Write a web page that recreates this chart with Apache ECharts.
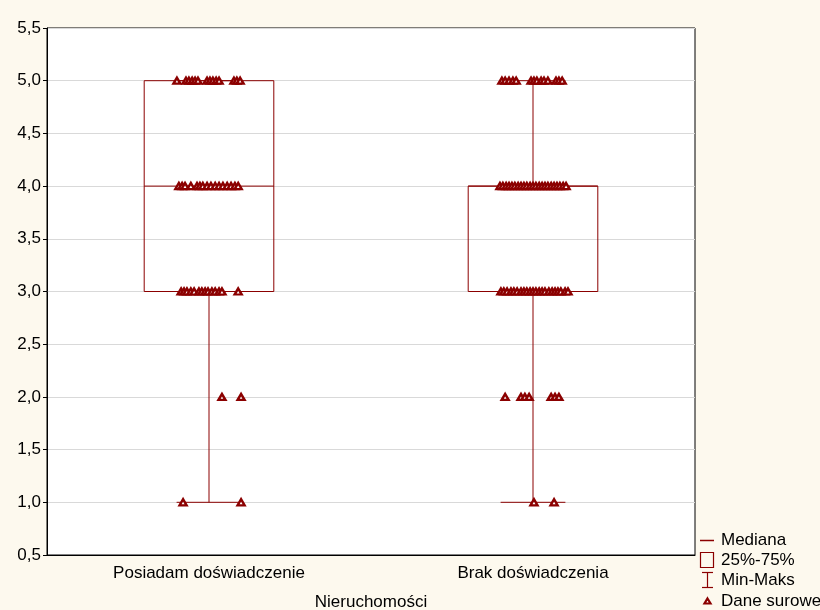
<!DOCTYPE html>
<html><head><meta charset="utf-8">
<script src="https://cdn.jsdelivr.net/npm/echarts@6/dist/echarts.min.js"></script>
<style>html,body{margin:0;padding:0;background:#FDF9EE;}#c{width:820px;height:610px;}</style>
</head><body><div id="c"></div><script>
const categories = ['Posiadam doświadczenie', 'Brak doświadczenia'];
const mins = [1, 1];
const q1s = [3, 3];
const medians = [4, 4];
const q3s = [5, 4];
const maxs = [5, 5];
const xAxisName = 'Nieruchomości';
const legendLabels = ['Mediana', '25%-75%', 'Min-Maks', 'Dane surowe'];
// raw points: [jitter offset in category widths, value]
const rawPosiadam = [
  [-0.099,5],[-0.071,5],[-0.062,5],[-0.052,5],[-0.043,5],[-0.034,5],[-0.006,5],[0.003,5],[0.012,5],[0.022,5],[0.031,5],[0.077,5],[0.086,5],[0.096,5],
  [-0.093,4],[-0.083,4],[-0.074,4],[-0.056,4],[-0.037,4],[-0.028,4],[-0.019,4],[-0.006,4],[0.006,4],[0.019,4],[0.031,4],[0.043,4],[0.056,4],[0.068,4],[0.080,4],[0.090,4],
  [-0.086,3],[-0.077,3],[-0.068,3],[-0.056,3],[-0.046,3],[-0.031,3],[-0.022,3],[-0.012,3],[-0.003,3],[0.009,3],[0.019,3],[0.031,3],[0.040,3],[0.090,3],
  [0.040,2],[0.099,2],
  [-0.080,1],[0.099,1]
];
const rawBrak = [
  [-0.096,5],[-0.086,5],[-0.074,5],[-0.062,5],[-0.052,5],[-0.006,5],[0.003,5],[0.012,5],[0.025,5],[0.034,5],[0.046,5],[0.071,5],[0.080,5],[0.090,5],
  [-0.102,4],[-0.093,4],[-0.083,4],[-0.074,4],[-0.065,4],[-0.056,4],[-0.046,4],[-0.037,4],[-0.028,4],[-0.019,4],[-0.009,4],[0.000,4],[0.009,4],[0.019,4],[0.028,4],[0.037,4],[0.046,4],[0.056,4],[0.065,4],[0.074,4],[0.083,4],[0.093,4],[0.102,4],
  [-0.099,3],[-0.090,3],[-0.080,3],[-0.068,3],[-0.059,3],[-0.049,3],[-0.037,3],[-0.028,3],[-0.019,3],[-0.009,3],[0.000,3],[0.009,3],[0.019,3],[0.028,3],[0.037,3],[0.049,3],[0.059,3],[0.068,3],[0.077,3],[0.086,3],[0.099,3],[0.108,3],
  [-0.086,2],[-0.037,2],[-0.025,2],[-0.012,2],[0.056,2],[0.068,2],[0.080,2],
  [0.003,1],[0.065,1]
];

const RED = '#8b0000';
const FONT = 'Liberation Sans, Arial, sans-serif';
const FS = 17;
const chart = echarts.init(document.getElementById('c'));
const boxData = categories.map((c, i) => [i, mins[i], q1s[i], medians[i], q3s[i], maxs[i]]);
const scatterData = rawPosiadam.map(p => [0 + p[0], p[1]]).concat(rawBrak.map(p => [1 + p[0], p[1]]));

function lineStyle() { return { stroke: RED, lineWidth: 1, fill: null }; }

chart.setOption({
  backgroundColor: '#FDF9EE',
  animation: false,
  grid: { left: 47, right: 125, top: 28, bottom: 55, show: true, backgroundColor: '#fff', borderColor: '#000', borderWidth: 1, outerBoundsMode: 'none', containLabel: false },
  xAxis: [{
    type: 'category', data: categories, boundaryGap: true,
    name: xAxisName, nameLocation: 'middle', nameGap: 39,
    nameTextStyle: { fontFamily: FONT, fontSize: FS, color: '#000' },
    axisLine: { onZero: false, lineStyle: { color: '#000' } },
    axisTick: { inside: true, length: 4, alignWithLabel: true, lineStyle: { color: '#000' } },
    axisLabel: { fontFamily: FONT, fontSize: FS, color: '#000', margin: 10 },
    splitLine: { show: false }
  }, {
    type: 'value', min: -0.5, max: 1.5, show: false
  }],
  yAxis: {
    type: 'value', min: 0.5, max: 5.5, interval: 0.5,
    axisLine: { show: true, onZero: false, lineStyle: { color: '#000' } },
    axisTick: { show: true, length: 4, lineStyle: { color: '#000' } },
    axisLabel: { fontFamily: FONT, fontSize: FS, color: '#000', margin: 6, formatter: v => v.toFixed(1).replace('.', ',') },
    splitLine: { show: true, lineStyle: { color: '#d9d9d9', width: 1 } }
  },
  series: [{
    name: 'Min-Maks', type: 'custom', xAxisIndex: 0, data: boxData, z: 2,
    renderItem: (params, api) => {
      const i = api.value(0);
      const band = api.size([1, 0])[0];
      const x = api.coord([i, api.value(3)])[0];
      const yMin = api.coord([i, api.value(1)])[1];
      const yQ1 = api.coord([i, api.value(2)])[1];
      const yQ3 = api.coord([i, api.value(4)])[1];
      const yMax = api.coord([i, api.value(5)])[1];
      const cw = band * 0.1;
      return { type: 'group', children: [
        { type: 'line', shape: { x1: x, y1: yMin, x2: x, y2: yQ1 }, style: lineStyle() },
        { type: 'line', shape: { x1: x, y1: yQ3, x2: x, y2: yMax }, style: lineStyle() },
        { type: 'line', shape: { x1: x - cw, y1: yMin, x2: x + cw, y2: yMin }, style: lineStyle() },
        { type: 'line', shape: { x1: x - cw, y1: yMax, x2: x + cw, y2: yMax }, style: lineStyle() }
      ]};
    }
  }, {
    name: '25%-75%', type: 'custom', xAxisIndex: 0, data: boxData, z: 3,
    renderItem: (params, api) => {
      const i = api.value(0);
      const band = api.size([1, 0])[0];
      const x = api.coord([i, api.value(3)])[0];
      const yQ1 = api.coord([i, api.value(2)])[1];
      const yQ3 = api.coord([i, api.value(4)])[1];
      const hw = band * 0.2;
      return { type: 'rect', shape: { x: x - hw, y: yQ3, width: hw * 2, height: yQ1 - yQ3 }, style: lineStyle() };
    }
  }, {
    name: 'Mediana', type: 'custom', xAxisIndex: 0, data: boxData, z: 4,
    renderItem: (params, api) => {
      const i = api.value(0);
      const band = api.size([1, 0])[0];
      const p = api.coord([i, api.value(3)]);
      const hw = band * 0.2;
      return { type: 'line', shape: { x1: p[0] - hw, y1: p[1], x2: p[0] + hw, y2: p[1] }, style: lineStyle() };
    }
  }, {
    name: 'Dane surowe', type: 'scatter', xAxisIndex: 1, data: scatterData, z: 5,
    symbol: 'triangle', symbolSize: [7, 6],
    itemStyle: { color: '#fff', borderColor: RED, borderWidth: 2.4, opacity: 1 }
  }],
  graphic: [
    { type: 'line', shape: { x1: 700, y1: 540.5, x2: 714, y2: 540.5 }, style: { stroke: RED, lineWidth: 1.5 } },
    { type: 'text', x: 721, y: 540, style: { text: legendLabels[0], font: FS + 'px ' + FONT, fill: '#000', verticalAlign: 'middle' } },
    { type: 'rect', shape: { x: 700.5, y: 552.5, width: 13, height: 15 }, style: { stroke: RED, lineWidth: 1.2, fill: null } },
    { type: 'text', x: 721, y: 560, style: { text: legendLabels[1], font: FS + 'px ' + FONT, fill: '#000', verticalAlign: 'middle' } },
    { type: 'line', shape: { x1: 702, y1: 572.5, x2: 713, y2: 572.5 }, style: { stroke: RED, lineWidth: 1.2 } },
    { type: 'line', shape: { x1: 707.5, y1: 572.5, x2: 707.5, y2: 587.5 }, style: { stroke: RED, lineWidth: 1.2 } },
    { type: 'line', shape: { x1: 702, y1: 587.5, x2: 713, y2: 587.5 }, style: { stroke: RED, lineWidth: 1.2 } },
    { type: 'text', x: 721, y: 580, style: { text: legendLabels[2], font: FS + 'px ' + FONT, fill: '#000', verticalAlign: 'middle' } },
    { type: 'polygon', shape: { points: [[707.5, 598.5], [710.5, 603.5], [704.5, 603.5]] }, style: { fill: '#fff', stroke: RED, lineWidth: 2.2 } },
    { type: 'text', x: 721, y: 601, style: { text: legendLabels[3], font: FS + 'px ' + FONT, fill: '#000', verticalAlign: 'middle' } }
  ]
});
</script></body></html>
